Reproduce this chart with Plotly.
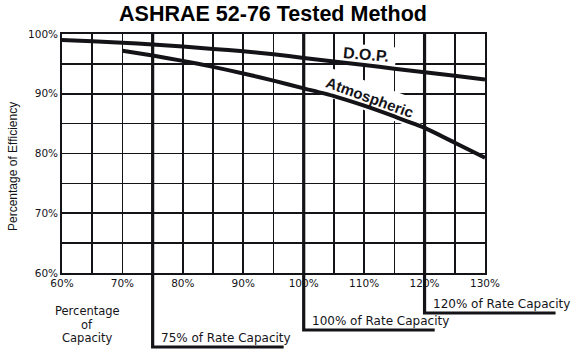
import math
import plotly.graph_objects as go

# ---------------- data ----------------
capacity_dop = [60, 65, 70, 75, 80, 85, 90, 95, 100, 105, 110, 115, 120, 125, 130]
efficiency_dop = [99.0, 98.8, 98.55, 98.25, 97.9, 97.5, 97.1, 96.6, 96.0, 95.4, 94.8, 94.2, 93.6, 93.0, 92.4]

capacity_atm = [70, 75, 80, 85, 90, 95, 100, 105, 110, 115, 120, 125, 130]
efficiency_atm = [97.2, 96.4, 95.5, 94.5, 93.4, 92.2, 90.9, 89.6, 88.0, 86.2, 84.3, 81.8, 79.3]

bracket_capacity = [75, 100, 120]
bracket_labels = ["75% of Rate Capacity", "100% of Rate Capacity", "120% of Rate Capacity"]

title_text = "ASHRAE 52-76 Tested Method"
y_title = "Percentage of Efficiency"
x_title_lines = ["Percentage", "of", "Capacity"]

# ---------------- layout constants ----------------
FIG_W, FIG_H = 576, 356
L, T, W, H = 62, 34, 423, 239
XMIN, XMAX, YMIN, YMAX = 60, 130, 60, 100
INK = "#141418"
FONT = "Liberation Sans, Arial, Helvetica, sans-serif"
WIDE = "DejaVu Sans, Verdana, sans-serif"


def px_to_paper_x(px):
    return (px - L) / W


def px_to_paper_y(py):
    return (T + H - py) / H


def data_to_paper_x(v):
    return (v - XMIN) / (XMAX - XMIN)


fig = go.Figure()

fig.add_trace(go.Scatter(x=capacity_dop, y=efficiency_dop, mode="lines",
                         line=dict(color=INK, width=4, shape="spline", smoothing=0.6),
                         hoverinfo="skip", showlegend=False))
fig.add_trace(go.Scatter(x=capacity_atm, y=efficiency_atm, mode="lines",
                         line=dict(color=INK, width=4, shape="spline", smoothing=0.6),
                         hoverinfo="skip", showlegend=False))

shapes = []
annotations = []

xs_per_px = (XMAX - XMIN) / W
ys_per_px = (YMAX - YMIN) / H


def label_patch(cx, cy, wpx, hpx, ang_deg):
    a = math.radians(ang_deg)
    pts = []
    for sx, sy in [(-1, -1), (1, -1), (1, 1), (-1, 1)]:
        dx = sx * wpx / 2
        dy = sy * hpx / 2
        rx = dx * math.cos(a) - dy * math.sin(a)
        ry = dx * math.sin(a) + dy * math.cos(a)
        pts.append((cx + rx * xs_per_px, cy - ry * ys_per_px))
    path = "M " + " L ".join(f"{x:.3f},{y:.3f}" for x, y in pts) + " Z"
    return dict(type="path", path=path, xref="x", yref="y", layer="between",
                fillcolor="white", line=dict(width=0))


dop_label_pos = (110.3, 96.5)
atm_label_pos = (111.0, 89.4)
shapes.append(label_patch(dop_label_pos[0], dop_label_pos[1], 60, 20, 5))
shapes.append(label_patch(atm_label_pos[0], atm_label_pos[1], 112, 28, 20))

annotations.append(dict(x=dop_label_pos[0], y=dop_label_pos[1], xref="x", yref="y",
                        text="<b>D.O.P.</b>", showarrow=False, textangle=5,
                        font=dict(family=FONT, size=16, color=INK)))
annotations.append(dict(x=atm_label_pos[0], y=atm_label_pos[1], xref="x", yref="y",
                        text="<b>Atmospheric</b>", showarrow=False, textangle=20,
                        font=dict(family=FONT, size=15, color=INK)))

# brackets for rate capacities
n = len(bracket_capacity)
for i, (cap, lab) in enumerate(zip(bracket_capacity, bracket_labels)):
    xp = data_to_paper_x(cap)
    drop_px = 40 + 17 * (n - 1 - i)
    yb = px_to_paper_y(T + H + drop_px)
    xe = xp + 131 / W
    shapes.append(dict(type="path", xref="paper", yref="paper",
                       path=f"M {xp:.4f},1 L {xp:.4f},{yb:.4f} L {xe:.4f},{yb:.4f}",
                       line=dict(color=INK, width=3.2), layer="above"))
    annotations.append(dict(x=xp, y=px_to_paper_y(T + H + drop_px - 9), xref="paper", yref="paper",
                            text=lab, showarrow=False, xanchor="left", yanchor="middle", xshift=6,
                            font=dict(family=WIDE, size=12, color=INK)))

# x title (three stacked lines)
for j, line in enumerate(x_title_lines):
    annotations.append(dict(x=px_to_paper_x(87), y=px_to_paper_y(311 + 13.5 * j), xref="paper", yref="paper",
                            text=line, showarrow=False, xanchor="center", yanchor="middle",
                            font=dict(family=WIDE, size=11.5, color=INK)))

# y title
annotations.append(dict(x=px_to_paper_x(13), y=px_to_paper_y(167), xref="paper", yref="paper",
                        text=y_title, showarrow=False, textangle=-90, xanchor="center", yanchor="middle",
                        font=dict(family=FONT, size=12, color=INK)))

axis_common = dict(
    showgrid=True, gridcolor=INK, gridwidth=1.6,
    showline=True, mirror=True, linecolor=INK, linewidth=1.8,
    zeroline=False, ticks="", ticksuffix="%",
    tickfont=dict(family=WIDE, size=10.5, color=INK),
    fixedrange=True,
)

fig.update_layout(
    width=FIG_W, height=FIG_H,
    margin=dict(l=L, r=FIG_W - L - W, t=T, b=FIG_H - T - H),
    paper_bgcolor="white", plot_bgcolor="white",
    showlegend=False,
    hovermode=False,
    title=dict(text=f"<b>{title_text}</b>", x=273 / FIG_W, xref="container", xanchor="center",
               y=1 - 13 / FIG_H, yref="container", yanchor="middle",
               font=dict(family=FONT, size=21.5, color="black")),
    xaxis=dict(range=[XMIN, XMAX], tickmode="linear", tick0=XMIN, dtick=10,
               minor=dict(tick0=XMIN, dtick=5, showgrid=True, gridcolor=INK, gridwidth=1.6),
               **axis_common),
    yaxis=dict(range=[YMIN, YMAX], tickmode="linear", tick0=YMIN, dtick=10,
               minor=dict(tick0=YMIN, dtick=5, showgrid=True, gridcolor=INK, gridwidth=1.6),
               **axis_common),
    shapes=shapes,
    annotations=annotations,
)

fig.write_html("out.html", config={"displayModeBar": False, "staticPlot": True},
               post_script="document.body.style.margin='0px';document.body.style.overflow='hidden';")
